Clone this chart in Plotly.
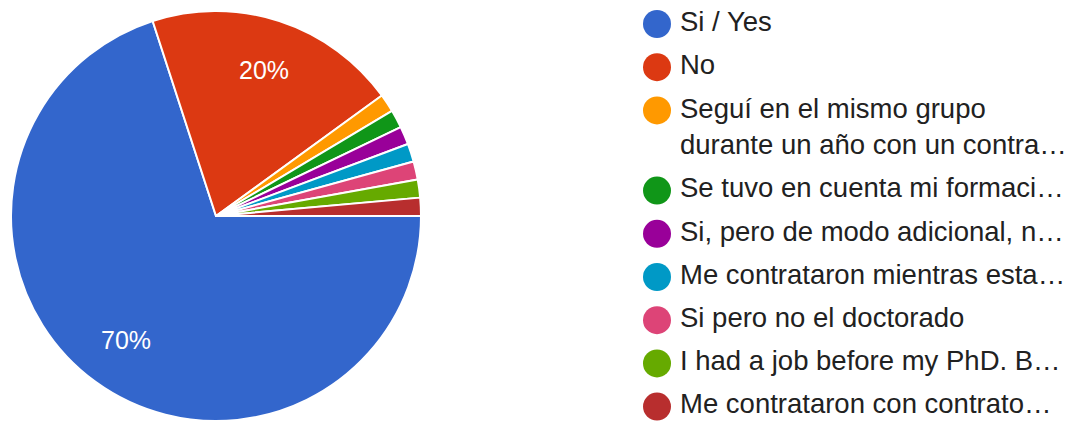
import math
import plotly.graph_objects as go

labels = [
    "Si / Yes",
    "No",
    "Seguí en el mismo grupo<br>durante un año con un contra…",
    "Se tuvo en cuenta mi formaci…",
    "Si, pero de modo adicional, n…",
    "Me contrataron mientras esta…",
    "Si pero no el doctorado",
    "I had a job before my PhD. B…",
    "Me contrataron con contrato…",
]
values = [49, 14, 1, 1, 1, 1, 1, 1, 1]
colors = ["#3366cc", "#dc3912", "#ff9900", "#109618", "#990099",
          "#0099c6", "#dd4477", "#66aa00", "#b82e2e"]

W, H = 1085, 421
cx, cy, r = 216, 216, 205
FONT = "Liberation Sans, Arial"

total = sum(values)

fig = go.Figure()
fig.add_trace(go.Pie(
    labels=labels, values=values, sort=False, direction="clockwise", rotation=90,
    marker=dict(colors=colors, line=dict(color="white", width=2)),
    textinfo="none",
    domain=dict(x=[(cx - r) / W, (cx + r) / W], y=[(H - cy - r) / H, (H - cy + r) / H]),
    showlegend=False, hoverinfo="label+percent",
))

# percentage labels for large slices, placed along each slice's mid-angle
start = 90.0
for v in values:
    span = 360.0 * v / total
    if v / total >= 0.05:
        mid = math.radians(start + span / 2)
        fig.add_annotation(
            x=cx + 0.75 * r * math.sin(mid), y=cy - 0.75 * r * math.cos(mid),
            xref="x", yref="y", text="%d%%" % round(100 * v / total),
            showarrow=False, font=dict(color="white", size=25, family=FONT),
        )
    start += span

# legend built as scatter traces on a pixel-like axis
top, step, line_h = 24, 43.2, 37
ys_marker, ys_text = [], []
y = top
for lab in labels:
    nlines = lab.count("<br>") + 1
    ys_marker.append(y)
    ys_text.append(y + (nlines - 1) * line_h / 2)
    y += step + (nlines - 1) * line_h
fig.add_trace(go.Scatter(
    x=[657] * len(labels), y=ys_marker, mode="markers",
    marker=dict(size=28, color=colors, symbol="circle"),
    xaxis="x", yaxis="y", showlegend=False, hoverinfo="skip",
))
fig.add_trace(go.Scatter(
    x=[680] * len(labels), y=ys_text, mode="text", text=labels,
    textposition="middle right",
    textfont=dict(size=27.5, color="#212121", family=FONT),
    xaxis="x", yaxis="y", showlegend=False, hoverinfo="skip",
))

fig.update_layout(
    width=W, height=H, margin=dict(l=0, r=0, t=0, b=0),
    paper_bgcolor="white", plot_bgcolor="rgba(0,0,0,0)",
    xaxis=dict(range=[0, W], visible=False, fixedrange=True),
    yaxis=dict(range=[H, 0], visible=False, fixedrange=True),
    showlegend=False,
)
fig.write_html("out.html")
